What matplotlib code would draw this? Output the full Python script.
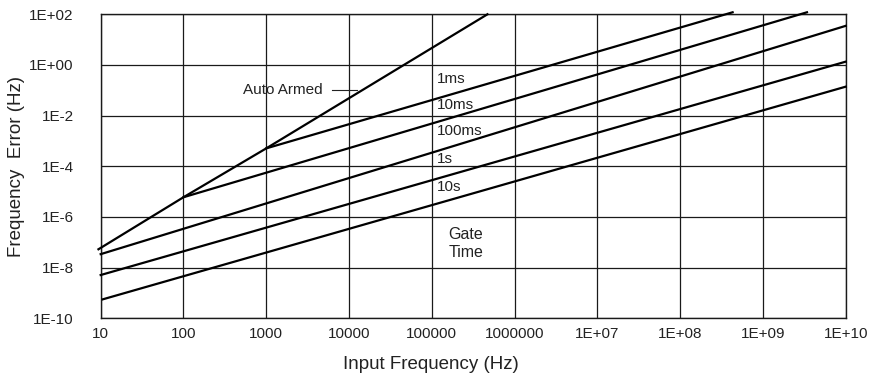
import matplotlib
matplotlib.use("Agg")
import matplotlib.pyplot as plt
import matplotlib.ticker as mticker

plt.rcParams['font.family'] = ['Liberation Sans', 'DejaVu Sans']

# curves (input Hz -> frequency error Hz)
auto_x = [9.4, 100, 1000, 4.7e5]
auto_y = [5.3e-8, 6.0e-6, 5.1e-4, 1.0e2]

gate_names = ["1ms", "10ms", "100ms", "1s", "10s"]
gate_x = [[1000, 4.3e8], [100, 3.4e9], [10, 1e10], [10, 1e10], [10.6, 1e10]]
gate_y = [[5.1e-4, 1.2e2], [6.0e-6, 1.2e2], [3.4e-8, 35.0], [5.1e-9, 1.35], [5.6e-10, 0.139]]
gate_label_y = [0.279, 0.0262, 2.54e-3, 1.94e-4, 1.56e-5]

xticks = [10, 100, 1000, 1e4, 1e5, 1e6, 1e7, 1e8, 1e9, 1e10]
xticklabels = ["10", "100", "1000", "10000", "100000", "1000000",
               "1E+07", "1E+08", "1E+09", "1E+10"]
yticks = [1e-10, 1e-8, 1e-6, 1e-4, 1e-2, 1, 1e2]
yticklabels = ["1E-10", "1E-8", "1E-6", "1E-4", "1E-2", "1E+00", "1E+02"]

fig = plt.figure(figsize=(8.71, 3.73), dpi=100)
ax = fig.add_axes([0.1156, 0.1467, 0.8554, 0.815])
ax.set_xscale("log")
ax.set_yscale("log")
ax.set_xlim(10, 1e10)
ax.set_ylim(1e-10, 1e2)

ax.xaxis.set_major_locator(mticker.FixedLocator(xticks))
ax.yaxis.set_major_locator(mticker.FixedLocator(yticks))
ax.xaxis.set_minor_locator(mticker.NullLocator())
ax.yaxis.set_minor_locator(mticker.NullLocator())
ax.set_xticklabels(xticklabels, fontsize=11, color="#222222")
ax.set_yticklabels(yticklabels, fontsize=11, color="#222222")
ax.tick_params(axis="x", length=0, pad=6.5)
ax.tick_params(axis="y", length=0, pad=19.5)

ax.grid(True, which="major", color="#1a1a1a", lw=0.9)
for s in ax.spines.values():
    s.set_color("#1a1a1a")
    s.set_linewidth(1.0)

# Auto armed line and gate-time lines
ax.plot(auto_x, auto_y, color="black", lw=1.6, clip_on=False, zorder=3)
for xs, ys in zip(gate_x, gate_y):
    ax.plot(xs, ys, color="black", lw=1.6, clip_on=False, zorder=3)

for name, ly in zip(gate_names, gate_label_y):
    ax.text(1.16e5, ly, name, fontsize=11, color="#222222", ha="left", va="center")

ax.text(2.56e5, 9.3e-8, "Gate\nTime", fontsize=11.5, color="#222222",
        ha="center", va="center", linespacing=1.25)
ax.text(4840, 0.1026, "Auto Armed", fontsize=11, color="#222222", ha="right", va="center")
ax.plot([6170, 12360], [0.1026, 0.1026], color="#222222", lw=0.8)

ax.set_xlabel("Input Frequency (Hz)", fontsize=13.5, color="#222222", va="baseline")
ax.xaxis.set_label_coords(0.443, -0.1668)
ax.set_ylabel("Frequency  Error (Hz)", fontsize=13.5, color="#222222", va="center")
ax.yaxis.set_label_coords(-0.113, 0.5)

fig.savefig("out.png", dpi=100)
